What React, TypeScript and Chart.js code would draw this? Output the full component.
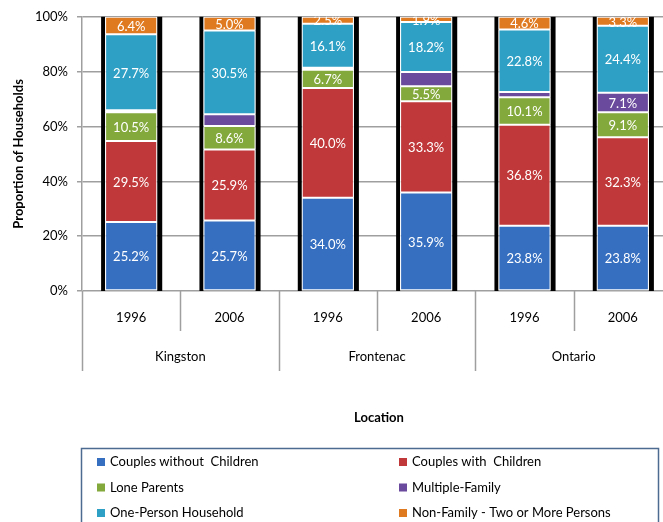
import React, { useEffect, useRef } from "react";
import { Chart, registerables } from "chart.js";
Chart.register(...registerables);

const categories = ["1996", "2006", "1996", "2006", "1996", "2006"];
const groups = ["Kingston", "Frontenac", "Ontario"];
const couplesWithout = [25.2, 25.7, 34.0, 35.9, 23.8, 23.8];
const couplesWith = [29.5, 25.9, 40.0, 33.3, 36.8, 32.3];
const loneParents = [10.5, 8.6, 6.7, 5.5, 10.1, 9.1];
const multipleFamily = [0.7, 4.3, 0.7, 5.2, 1.9, 7.1];
const onePerson = [27.7, 30.5, 16.1, 18.2, 22.8, 24.4];
const nonFamily = [6.4, 5.0, 2.5, 1.9, 4.6, 3.3];
const multipleFamilyLabelShown = [false, false, false, false, false, true];
const yTicks = [0, 20, 40, 60, 80, 100];

const FONT = "Lato, 'Open Sans', sans-serif";
const GRID = "#9f9f9f";

const blackStrips = {
  id: "blackStrips",
  beforeDatasetsDraw(chart: any) {
    const { ctx } = chart;
    const ys = chart.scales.y;
    const top = ys.getPixelForValue(100);
    const bottom = ys.getPixelForValue(0);
    const meta = chart.getDatasetMeta(0);
    ctx.save();
    ctx.fillStyle = "#000";
    meta.data.forEach((bar: any) => {
      const { x, width } = bar.getProps(["x", "width"], true);
      ctx.fillRect(x - width / 2 - 4, top, 4, bottom - top);
      ctx.fillRect(x + width / 2, top, 5, bottom - top);
    });
    ctx.restore();
  },
};

const barLabels = {
  id: "barLabels",
  afterDatasetsDraw(chart: any) {
    const { ctx, chartArea } = chart;
    ctx.save();
    ctx.beginPath();
    ctx.rect(chartArea.left, chartArea.top, chartArea.right - chartArea.left, chartArea.bottom - chartArea.top);
    ctx.clip();
    ctx.font = `13px ${FONT}`;
    ctx.fillStyle = "#fff";
    ctx.textAlign = "center";
    ctx.textBaseline = "middle";
    chart.data.datasets.forEach((ds: any, di: number) => {
      const meta = chart.getDatasetMeta(di);
      meta.data.forEach((bar: any, i: number) => {
        if (ds.labelShown && !ds.labelShown[i]) return;
        const { x, y, base } = bar.getProps(["x", "y", "base"], true);
        ctx.fillText(ds.data[i].toFixed(1) + "%", x, (y + base) / 2 + 1);
      });
    });
    ctx.restore();
  },
};

const xAxisDraw = {
  id: "xAxisDraw",
  afterDraw(chart: any) {
    const { ctx, chartArea } = chart;
    const xs = chart.scales.x;
    const n = categories.length;
    const catW = (chartArea.right - chartArea.left) / n;
    const bottom = chartArea.bottom;
    ctx.save();
    ctx.strokeStyle = GRID;
    ctx.lineWidth = 1.5;
    for (let i = 0; i <= n; i++) {
      const x = Math.round(chartArea.left + i * catW) + 0.5;
      const len = i % 2 === 0 ? 80 : 40;
      ctx.beginPath();
      ctx.moveTo(x, bottom);
      ctx.lineTo(x, bottom + len);
      ctx.stroke();
    }
    ctx.fillStyle = "#000";
    ctx.textAlign = "center";
    ctx.textBaseline = "middle";
    ctx.font = `13px ${FONT}`;
    categories.forEach((c, i) => {
      ctx.fillText(c, xs.getPixelForValue(i), bottom + 27);
    });
    groups.forEach((g, gi) => {
      const x = (xs.getPixelForValue(gi * 2) + xs.getPixelForValue(gi * 2 + 1)) / 2;
      ctx.fillText(g, x, bottom + 66);
    });
    ctx.font = `bold 13px ${FONT}`;
    ctx.fillText("Location", (chartArea.left + chartArea.right) / 2 + 2, bottom + 127);
    ctx.restore();
  },
};

const legendDraw = {
  id: "legendDraw",
  afterDraw(chart: any) {
    const { ctx } = chart;
    ctx.save();
    ctx.strokeStyle = "#4d6a91";
    ctx.lineWidth = 1.5;
    ctx.strokeRect(81.5, 448.5, 577, 90);
    ctx.font = `13px ${FONT}`;
    ctx.textBaseline = "middle";
    ctx.textAlign = "left";
    const cols = [97, 399];
    const rows = [462, 487.5, 513];
    chart.data.datasets.forEach((ds: any, i: number) => {
      const cx = cols[i % 2];
      const cy = rows[Math.floor(i / 2)];
      ctx.fillStyle = ds.backgroundColor;
      ctx.fillRect(cx, cy - 4, 8, 8);
      ctx.fillStyle = "#000";
      ctx.fillText(ds.label, cx + 13, cy);
    });
    ctx.restore();
  },
};

export default function App() {
  const ref = useRef<HTMLCanvasElement>(null);
  useEffect(() => {
    if (!ref.current) return;
    const mk = (label: string, data: number[], color: string, extra: any = {}) => ({
      label,
      data,
      backgroundColor: color,
      borderColor: "#ffffff",
      borderWidth: 1,
      borderSkipped: false,
      barPercentage: 0.53,
      categoryPercentage: 1,
      ...extra,
    });
    const chart = new Chart(ref.current, {
      type: "bar",
      data: {
        labels: categories,
        datasets: [
          mk("Couples without  Children", couplesWithout, "#366fc0"),
          mk("Couples with  Children", couplesWith, "#c03839"),
          mk("Lone Parents", loneParents, "#83a83b"),
          mk("Multiple-Family", multipleFamily, "#6a4a9c"),
          mk("One-Person Household", onePerson, "#2fa0c5"),
          mk("Non-Family - Two or More Persons", nonFamily, "#e07a20"),
        ].map((d, i) => (i === 3 ? { ...d, labelShown: multipleFamilyLabelShown } : d)),
      },
      options: {
        responsive: false,
        animation: false,
        devicePixelRatio: 1,
        layout: { padding: { top: 15, left: 0, right: 0, bottom: 0 } },
        plugins: { legend: { display: false }, tooltip: { enabled: false } },
        scales: {
          x: {
            stacked: true,
            ticks: { display: false },
            grid: { display: false },
            border: { display: false },
            afterFit: (s: any) => {
              s.height = 231;
            },
          },
          y: {
            stacked: true,
            min: 0,
            max: 100,
            afterBuildTicks: (s: any) => {
              s.ticks = yTicks.map((v) => ({ value: v }));
            },
            ticks: {
              callback: (v: any) => v + "%",
              color: "#000",
              font: { family: FONT, size: 13 },
              padding: 9,
            },
            grid: { color: GRID, lineWidth: 1.5, tickLength: 5 },
            border: { color: GRID, width: 1.5 },
            title: {
              display: true,
              text: "Proportion of Households",
              color: "#000",
              font: { family: FONT, size: 13, weight: "bold" },
              padding: { top: 11, bottom: 0 },
            },
            afterFit: (s: any) => {
              s.width = 82;
            },
          },
        },
      },
      plugins: [blackStrips, barLabels, xAxisDraw, legendDraw],
    } as any);
    return () => chart.destroy();
  }, []);
  return (
    <div style={{ position: "fixed", left: 0, top: 0, width: 663, height: 522, overflow: "hidden", background: "#fff" }}>
      <canvas ref={ref} width={672} height={522} style={{ display: "block" }} />
    </div>
  );
}
